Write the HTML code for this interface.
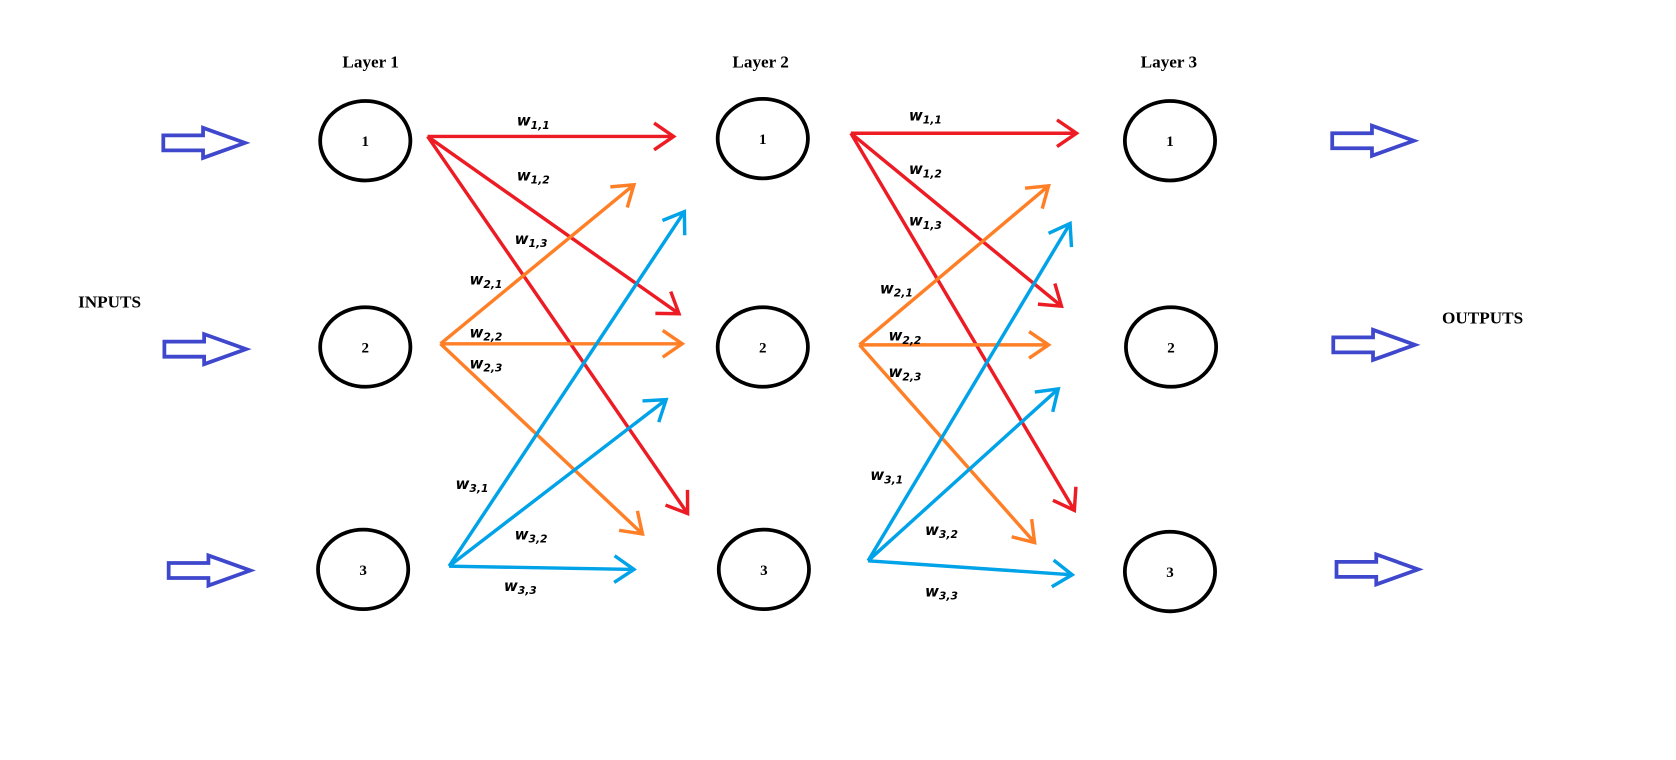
<!DOCTYPE html>
<html><head><meta charset="utf-8"><style>
html,body{margin:0;padding:0;background:#fff;width:1676px;height:760px;overflow:hidden}
svg{display:block}
text{font-family:"Liberation Serif",serif;font-weight:bold}
.w{font-family:"DejaVu Sans","Liberation Sans",sans-serif;font-weight:bold;font-style:italic;font-size:14px}
</style></head><body>
<svg id="diagram" width="1676" height="760" viewBox="0 0 1560 707.4" preserveAspectRatio="none" xmlns="http://www.w3.org/2000/svg">
<g id="g-static">
<text x="345" y="63" font-size="16" text-anchor="middle">Layer 1</text>
<text x="708" y="63" font-size="16" text-anchor="middle">Layer 2</text>
<text x="1088" y="63" font-size="16" text-anchor="middle">Layer 3</text>
<text x="102" y="286" font-size="16" text-anchor="middle">INPUTS</text>
<text x="1380" y="301" font-size="16" text-anchor="middle">OUTPUTS</text>
</g>
<g id="g-edges"></g>
<g id="g-nodes"></g>
</svg>
<script>
const NS="http://www.w3.org/2000/svg";
const nodeX=[[340,340,338],[710,710,711],[1089,1090,1089]];
const nodeY=[[131,323,530],[129,323,530],[131,323,532]];
const inArrows=[[152,133],[153,325],[157,531]];
const outArrows=[[1240,131],[1241,321],[1244,530]];
const colors=["#ed1c24","#ff7f27","#00a2e8"];
const edgeStarts=[[[398,127],[410,320],[418,527]],[[792,124],[800,321],[808,522]]];
const edgeEnds=[
 [[[627,127],[632,292],[640,478]],[[590,172],[635,320],[598,497]],[[637,197],[620,372],[590,530]]],
 [[[1002,124],[988,285],[1000,475]],[[976,173],[976,321],[963,505]],[[996,208],[985,362],[998,535]]]];
const wLabels=[
 [[[481,117],[481,168],[479,227]],[[437,265],[437,314],[437,343]],[[424,455],[479,502],[469,550]]],
 [[[846,112],[846,162],[846,210]],[[819,273],[827,317],[827,351]],[[810,447],[861,498],[861,555]]]];
const E=document.getElementById('g-edges'),N=document.getElementById('g-nodes');
function mk(t,a,p){const e=document.createElementNS(NS,t);for(const k in a)e.setAttribute(k,a[k]);p.appendChild(e);return e;}
for(let L=0;L<2;L++)for(let i=0;i<3;i++)for(let j=0;j<3;j++){
 const [x1,y1]=edgeStarts[L][i],[x2,y2]=edgeEnds[L][i][j];
 const ang=Math.atan2(y2-y1,x2-x1),h=22;
 const a1=ang+Math.PI-0.6,a2=ang+Math.PI+0.6;
 const p=mk('path',{d:`M${x1},${y1}L${x2},${y2}M${x2+h*Math.cos(a1)},${y2+h*Math.sin(a1)}L${x2},${y2}L${x2+h*Math.cos(a2)},${y2+h*Math.sin(a2)}`,stroke:colors[i],'stroke-width':3.2,fill:'none','stroke-linejoin':'miter'},E);
 
 
 const [lx,ly]=wLabels[L][i][j];
 const t=mk('text',{x:lx,y:ly,class:'w'},E);
 
 
 t.innerHTML=`w<tspan font-size="10" dy="3">${i+1},${j+1}</tspan>`;
}
for(let L=0;L<3;L++)for(let k=0;k<3;k++){
 const c=mk('ellipse',{cx:nodeX[L][k],cy:nodeY[L][k],rx:42,ry:37,fill:'#fff',stroke:'#000','stroke-width':3.5},N);
 
 
 const t=mk('text',{x:nodeX[L][k],y:nodeY[L][k]+5,'font-size':14,'text-anchor':'middle'},N);
 
 
 t.textContent=k+1;
}
function bigArrow(x,y,name){
 const d=`M${x},${y-7}L${x+37},${y-7}L${x+37},${y-14}L${x+76},${y}L${x+37},${y+14}L${x+37},${y+7}L${x},${y+7}Z`;
 const p=mk('path',{d,fill:'none',stroke:'#3f48cc','stroke-width':3.5,'stroke-linejoin':'miter'},N);
 
 
}
inArrows.forEach((a,i)=>bigArrow(a[0],a[1],'input-arrow-'+(i+1)));
outArrows.forEach((a,i)=>bigArrow(a[0],a[1],'output-arrow-'+(i+1)));
</script>
</body></html>
